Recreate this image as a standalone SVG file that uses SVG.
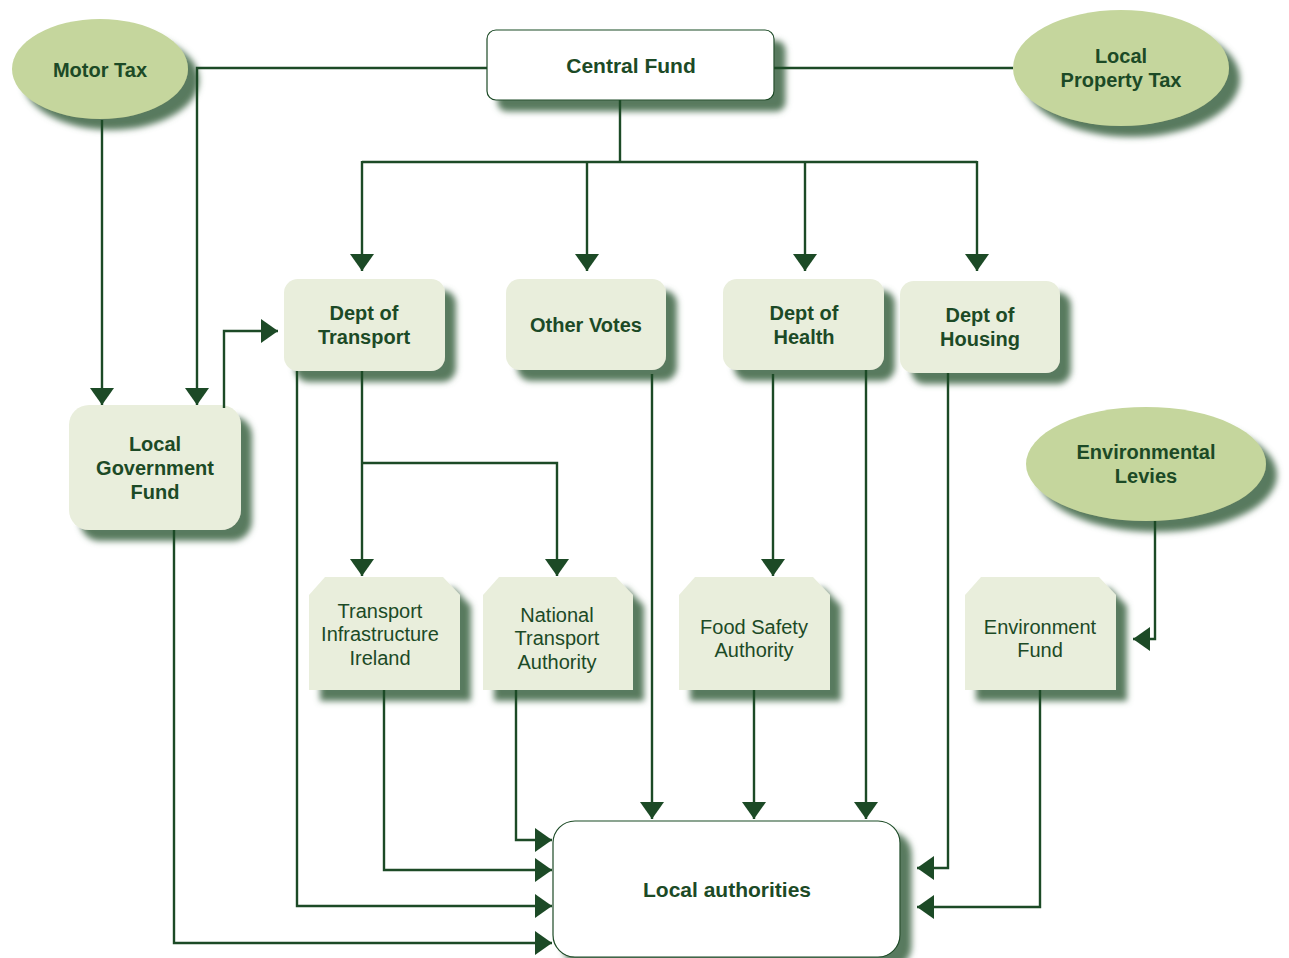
<svg xmlns="http://www.w3.org/2000/svg" width="1289" height="958" viewBox="0 0 1289 958">
<defs>
<filter id="sh" x="-20%" y="-20%" width="150%" height="160%">
<feGaussianBlur in="SourceAlpha" stdDeviation="3" result="b"/>
<feOffset in="b" dx="11" dy="11" result="o"/>
<feFlood flood-color="#587a5e"/>
<feComposite in2="o" operator="in" result="s"/>
<feMerge><feMergeNode in="s"/><feMergeNode in="SourceGraphic"/></feMerge>
</filter>
<marker id="ar" markerUnits="userSpaceOnUse" markerWidth="18" markerHeight="26" refX="17" refY="12" orient="auto">
<path d="M0,0 L17,12 L0,24 z" fill="#1c4a26"/>
</marker>
<style>
.ell{fill:#c5d69d;filter:url(#sh)}
.box{fill:#e9eedc;filter:url(#sh)}
.wbox{fill:#ffffff;stroke:#1c4a26;stroke-width:1.2;filter:url(#sh)}
.tb{font-family:"Liberation Sans",Arial,sans-serif;font-weight:bold;font-size:20px;fill:#1c4a26;text-anchor:middle}
.tr{font-family:"Liberation Sans",Arial,sans-serif;font-size:20px;fill:#1c4a26;text-anchor:middle}
.c{fill:none;stroke:#1c4a26;stroke-width:2.4}
.ca{fill:none;stroke:#1c4a26;stroke-width:2.4;marker-end:url(#ar)}
</style>
</defs>
<rect width="1289" height="958" fill="#ffffff"/>

<g id="motor-tax"><ellipse class="ell" cx="100" cy="69" rx="88" ry="50"/><text class="tb" x="100" y="77">Motor Tax</text></g>
<g id="central-fund"><rect class="wbox" x="487" y="30" width="287" height="70" rx="9"/><text class="tb" x="631" y="73" style="font-size:21px">Central Fund</text></g>
<g id="local-property-tax"><ellipse class="ell" cx="1121" cy="68" rx="108" ry="58"/><text class="tb" x="1121" y="63">Local</text><text class="tb" x="1121" y="87">Property Tax</text></g>
<g id="local-government-fund"><rect class="box" x="69" y="405" width="172" height="125" rx="20"/><text class="tb" x="155" y="451">Local</text><text class="tb" x="155" y="475">Government</text><text class="tb" x="155" y="499">Fund</text></g>
<g id="dept-transport"><rect class="box" x="284" y="279" width="161" height="92" rx="14"/><text class="tb" x="364" y="320">Dept of</text><text class="tb" x="364" y="344">Transport</text></g>
<g id="other-votes"><rect class="box" x="506" y="279" width="160" height="91" rx="14"/><text class="tb" x="586" y="332">Other Votes</text></g>
<g id="dept-health"><rect class="box" x="723" y="279" width="161" height="91" rx="14"/><text class="tb" x="804" y="320">Dept of</text><text class="tb" x="804" y="344">Health</text></g>
<g id="dept-housing"><rect class="box" x="900" y="281" width="160" height="92" rx="14"/><text class="tb" x="980" y="322">Dept of</text><text class="tb" x="980" y="346">Housing</text></g>
<g id="environmental-levies"><ellipse class="ell" cx="1146" cy="464" rx="120" ry="57"/><text class="tb" x="1146" y="459">Environmental</text><text class="tb" x="1146" y="483">Levies</text></g>
<g id="tii"><path class="box" d="M325,577 H443 L460,595 V690 H309 V595 Z"/><text class="tr" x="380" y="618">Transport</text><text class="tr" x="380" y="641">Infrastructure</text><text class="tr" x="380" y="665">Ireland</text></g>
<g id="nta"><path class="box" d="M499,577 H616 L633,595 V690 H483 V595 Z"/><text class="tr" x="557" y="622">National</text><text class="tr" x="557" y="645">Transport</text><text class="tr" x="557" y="669">Authority</text></g>
<g id="fsa"><path class="box" d="M695,577 H813 L830,595 V690 H679 V595 Z"/><text class="tr" x="754" y="634">Food Safety</text><text class="tr" x="754" y="657">Authority</text></g>
<g id="environment-fund"><path class="box" d="M981,577 H1099 L1116,595 V690 H965 V595 Z"/><text class="tr" x="1040" y="634">Environment</text><text class="tr" x="1040" y="657">Fund</text></g>
<g id="local-authorities"><rect class="wbox" x="553" y="821" width="347" height="136" rx="22"/><text class="tb" x="727" y="897" style="font-size:21px">Local authorities</text></g>

<g id="connectors">
<path class="ca" d="M487,68 H197 V405"/>
<path class="c" d="M774,68 H1013"/>
<path class="ca" d="M102,120 V405"/>
<path class="c" d="M620,100 V162 M362,162 H977"/>
<path class="ca" d="M362,161 V271"/>
<path class="ca" d="M587,161 V271"/>
<path class="ca" d="M805,161 V271"/>
<path class="ca" d="M977,161 V271"/>
<path class="ca" d="M224,408 V331 H278"/>
<path class="ca" d="M362,371 V576"/>
<path class="ca" d="M362,463 H557 V576"/>
<path class="ca" d="M297,371 V906 H552"/>
<path class="ca" d="M652,374 V819"/>
<path class="ca" d="M773,374 V576"/>
<path class="ca" d="M866,370 V819"/>
<path class="ca" d="M948,373 V868 H917"/>
<path class="ca" d="M1155,521 V639 H1133"/>
<path class="ca" d="M1040,690 V907 H917"/>
<path class="ca" d="M384,690 V870 H552"/>
<path class="ca" d="M516,690 V840 H552"/>
<path class="ca" d="M754,690 V819"/>
<path class="ca" d="M174,530 V943 H552"/>
</g>
</svg>
